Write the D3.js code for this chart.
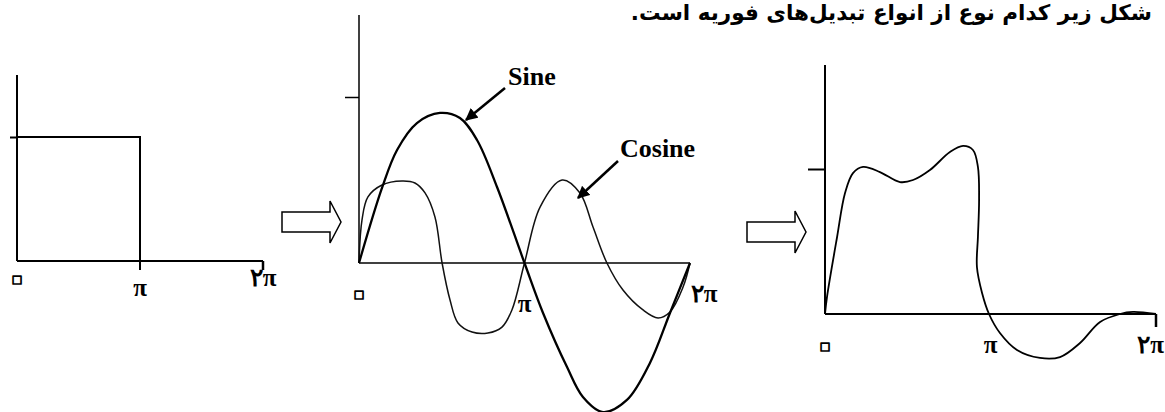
<!DOCTYPE html>
<html>
<head>
<meta charset="utf-8">
<script src="https://cdn.jsdelivr.net/npm/d3@7"></script>
<style>
  html, body { margin: 0; padding: 0; background: #fff; overflow: hidden; }
  svg { display: block; }
</style>
</head>
<body>
<div id="chart"></div>
<script>
// x values are in units of pi, y values in units of the marked tick
const titleText = "شکل زیر کدام نوع از انواع تبدیل‌های فوریه است.";
const xTickLabels = ["۰", "π", "۲π"];
const seriesLabels = ["Sine", "Cosine"];

const squareX = [0, 1, 1];
const squareY = [1, 1, 0];

const sineX = [0, 0.139, 0.23, 0.35, 0.489, 0.61, 0.713, 0.834, 1, 1.112, 1.257, 1.353, 1.474, 1.619, 1.758, 1.879, 2];
const sineY = [0, 0.452, 0.681, 0.843, 0.904, 0.873, 0.741, 0.458, 0, -0.301, -0.627, -0.807, -0.898, -0.825, -0.602, -0.301, 0];

const cosineX = [0, 0.018, 0.054, 0.139, 0.26, 0.338, 0.399, 0.459, 0.502, 0.55, 0.598, 0.683, 0.779, 0.864, 0.924, 1,
                 1.094, 1.227, 1.335, 1.414, 1.498, 1.595, 1.716, 1.807, 1.879, 1.958, 2];
const cosineY = [0, 0.259, 0.398, 0.47, 0.494, 0.482, 0.422, 0.277, 0, -0.223, -0.361, -0.416, -0.422, -0.386, -0.283, 0,
                 0.337, 0.5, 0.422, 0.217, 0, -0.163, -0.283, -0.331, -0.295, -0.145, 0];

const resultX = [0, 0.012, 0.073, 0.121, 0.169, 0.23, 0.332, 0.453, 0.532, 0.634, 0.755, 0.834, 0.894, 0.924, 0.931, 0.924,
                 0.918, 0.949, 0.991, 1.057, 1.16, 1.299, 1.42, 1.541, 1.662, 1.782, 1.861, 2];
const resultY = [0, 0.117, 0.531, 0.834, 0.972, 1.014, 0.979, 0.91, 0.924, 0.993, 1.117, 1.159, 1.131, 1.014, 0.786, 0.531,
                 0.324, 0.145, 0, -0.131, -0.248, -0.303, -0.297, -0.2, -0.055, 0, 0.014, 0];

const zip = (xs, ys) => xs.map((x, i) => ({x: x, y: ys[i]}));

const W = 1165, H = 412;
const svg = d3.select("#chart").append("svg").attr("width", W).attr("height", H);

const serif = "'Liberation Serif', 'Times New Roman', 'DejaVu Serif', serif";

// title along the top edge
svg.append("text")
    .attr("x", 1152).attr("y", 20)
    .attr("direction", "rtl")
    .attr("text-anchor", "start")
    .style("font-family", "'DejaVu Sans', sans-serif")
    .style("font-weight", "bold")
    .style("font-size", "21.5px")
    .text(titleText);

// panel layout: origin, pi-width, unit height
const panels = [
    {x0: 17, x2: 263, y0: 261, y1: 137, yTop: 1.5, tick: 7, axisW: 2, endTick: 9, labelY: [281, 296, 286], endDx: 0},
    {x0: 359, x2: 690, y0: 263, y1: 97, yTop: 1.494, tick: 14, axisW: 1.5, endTick: 0, labelY: [296, 312, 302], endDx: 14},
    {x0: 825, x2: 1156, y0: 314, y1: 169, yTop: 1.717, tick: 17, axisW: 2, endTick: 13, labelY: [348, 353, 353], endDx: 0}
];

panels.forEach(function (p, i) {
    p.x = d3.scaleLinear().domain([0, 2]).range([p.x0, p.x2]);
    p.y = d3.scaleLinear().domain([0, 1]).range([p.y0, p.y1]);
    let g = svg.append("g").attr("class", "panel" + i);
    p.g = g;

    // y axis with a single tick at 1
    g.append("g")
        .attr("transform", `translate(${p.x(0)},0)`)
        .call(d3.axisLeft(p.y).tickValues([1]).tickSize(p.tick).tickFormat(""))
        .call(a => a.select(".domain").attr("d", `M0,${p.y(p.yTop)}V${p.y0}`))
        .selectAll("path, line").attr("stroke", "#000").attr("stroke-width", p.axisW);

    // x axis line
    g.append("line")
        .attr("x1", p.x(0)).attr("x2", p.x(2))
        .attr("y1", p.y(0)).attr("y2", p.y(0))
        .attr("stroke", "#000").attr("stroke-width", p.axisW);
    if (p.endTick) {
        g.append("line")
            .attr("x1", p.x(2)).attr("x2", p.x(2))
            .attr("y1", p.y(0)).attr("y2", p.y(0) + p.endTick)
            .attr("stroke", "#000").attr("stroke-width", 2.5);
    }

    // tick labels
    [0, 1, 2].forEach(function (v, k) {
        let t = g.append("text")
            .attr("x", p.x(v) + (k === 2 ? p.endDx : 0))
            .attr("y", p.labelY[k])
            .attr("text-anchor", "middle")
            .style("font-family", serif)
            .style("font-weight", "bold")
            .style("font-size", "25px")
            .text(xTickLabels[k]);
        if (k === 0) {
            t.style("font-family", "'DejaVu Sans', sans-serif")
                .style("font-size", "46px")
                .attr("y", p.labelY[k] + 12)
                .attr("fill", "#fff").attr("stroke", "#000")
                .attr("stroke-width", 1.7).attr("stroke-linejoin", "round");
        }
        if (k === 2 && i === 2) {
            t.attr("x", W - 1).attr("text-anchor", "end");
        }
    });
});

const line = (p, curve) => d3.line().x(d => p.x(d.x)).y(d => p.y(d.y)).curve(curve);

// panel 1: square pulse
{
    let p = panels[0];
    let pts = zip(squareX, squareY);
    pts[pts.length - 1].y = -9 / (p.y0 - p.y1);
    p.g.append("path")
        .attr("d", line(p, d3.curveLinear)(pts))
        .attr("fill", "none").attr("stroke", "#000").attr("stroke-width", 2);
}

// panel 2: sine and cosine
{
    let p = panels[1];
    p.g.append("path")
        .attr("d", line(p, d3.curveCatmullRom.alpha(0.5))(zip(cosineX, cosineY)))
        .attr("fill", "none").attr("stroke", "#111").attr("stroke-width", 1.5);
    p.g.append("path")
        .attr("d", line(p, d3.curveCatmullRom.alpha(0.5))(zip(sineX, sineY)))
        .attr("fill", "none").attr("stroke", "#000").attr("stroke-width", 2.3);
}

// panel 3: resulting sum
{
    let p = panels[2];
    p.g.append("path")
        .attr("d", line(p, d3.curveCatmullRom.alpha(0.5))(zip(resultX, resultY)))
        .attr("fill", "none").attr("stroke", "#000").attr("stroke-width", 1.8);
}

// annotation arrows and labels
svg.append("defs").append("marker")
    .attr("id", "head")
    .attr("viewBox", "0 0 10 10")
    .attr("refX", 9).attr("refY", 5)
    .attr("markerWidth", 5).attr("markerHeight", 5)
    .attr("orient", "auto")
    .append("path").attr("d", "M0,0L10,5L0,10Z").attr("fill", "#000");

const annotations = [
    {label: seriesLabels[0], tx: 508, ty: 85, from: [505, 88], to: [466, 120]},
    {label: seriesLabels[1], tx: 620, ty: 157, from: [618, 161], to: [578, 198]}
];
annotations.forEach(function (a) {
    svg.append("line")
        .attr("x1", a.from[0]).attr("y1", a.from[1])
        .attr("x2", a.to[0]).attr("y2", a.to[1])
        .attr("stroke", "#000").attr("stroke-width", 2.5)
        .attr("marker-end", "url(#head)");
    svg.append("text")
        .attr("x", a.tx).attr("y", a.ty)
        .style("font-family", serif)
        .style("font-weight", "bold")
        .style("font-size", "26px")
        .text(a.label);
});

// hollow block arrows between panels
function blockArrow(x, y) {
    let path = d3.path();
    path.moveTo(x, y + 11);
    path.lineTo(x + 48, y + 11);
    path.lineTo(x + 48, y);
    path.lineTo(x + 59, y + 21);
    path.lineTo(x + 48, y + 42);
    path.lineTo(x + 48, y + 31);
    path.lineTo(x, y + 31);
    path.closePath();
    svg.append("path").attr("d", path.toString())
        .attr("fill", "#fff").attr("stroke", "#000").attr("stroke-width", 1.5);
}
blockArrow(282, 201);
blockArrow(747, 211);
</script>
</body>
</html>
